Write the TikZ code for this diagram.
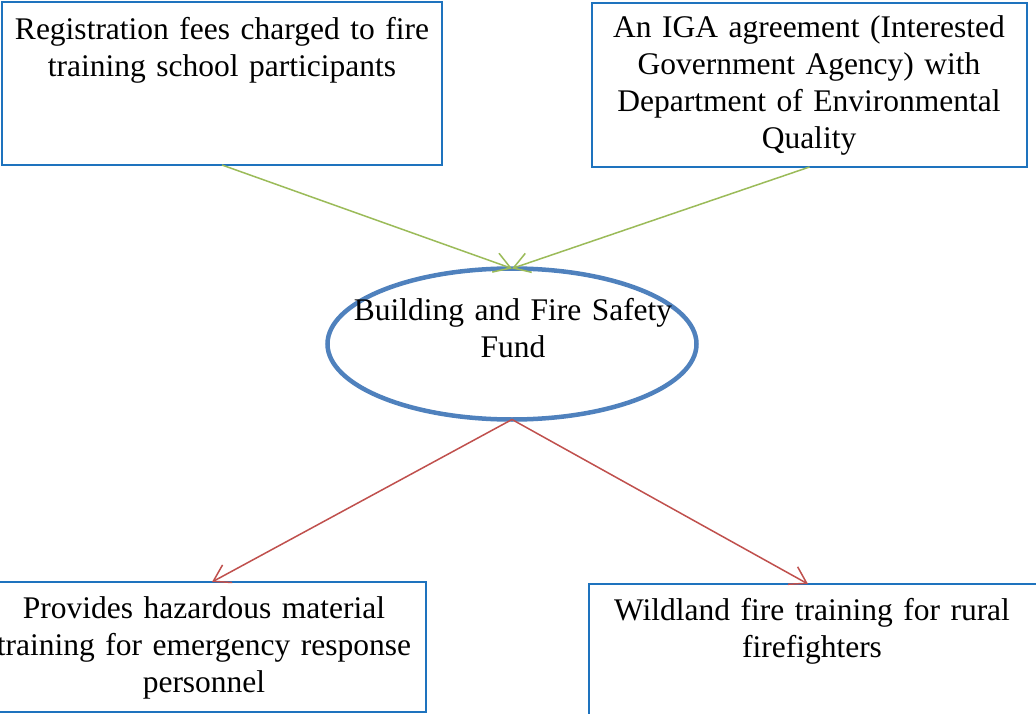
\documentclass[tikz,border=0pt]{standalone}
\usepackage{fontspec}
\setmainfont{Liberation Serif}
\usetikzlibrary{arrows.meta,shapes.geometric}
\definecolor{boxblue}{RGB}{30,115,190}
\definecolor{ellblue}{RGB}{79,129,189}
\definecolor{ingreen}{RGB}{155,187,89}
\definecolor{outred}{RGB}{192,80,77}
\tikzset{
  box/.style={draw=boxblue, line width=2pt, rectangle, inner sep=0pt, outer sep=0pt, anchor=north west},
  fund/.style={draw=ellblue, line width=4.5pt, ellipse, inner sep=0pt, outer sep=0pt, minimum width=369pt, minimum height=151pt},
  txt/.style={align=center, inner sep=0pt, anchor=base, font=\fontsize{31.5}{37}\selectfont},
  inflow/.style={draw=ingreen, line width=1.5pt, -{Straight Barb[length=16pt,width=20pt]}},
  outflow/.style={draw=outred, line width=1.5pt, -{Straight Barb[length=16pt,width=20pt]}}
}
\begin{document}
\begin{tikzpicture}[x=1pt,y=-1pt]
\useasboundingbox (0,0) rectangle (1036,714);
\fill[white] (0,0) rectangle (1036,714);
% boxes
\node[box, minimum width=440pt, minimum height=163pt] (b1) at (2,2) {};
\node[box, minimum width=435pt, minimum height=164pt] (b2) at (592,3) {};
\node[box, minimum width=444pt, minimum height=130pt] (b3) at (-18,582) {};
\node[box, minimum width=448pt, minimum height=140pt] (b4) at (589,584) {};
\node[fund] (f) at (512,344) {};
% texts
\node[txt, text width=440pt] (t1) at (222,40) {Registration fees charged to fire\\training school participants};
\node[txt, text width=440pt] (t2) at (809,38) {An IGA agreement (Interested\\Government Agency) with\\Department of Environmental\\Quality};
\node[txt, text width=440pt] (tf) at (513,320) {Building and Fire Safety\\Fund};
\node[txt, text width=460pt] (t3) at (204,618) {Provides hazardous material\\training for emergency response\\personnel};
\node[txt, text width=440pt] (t4) at (812,620) {Wildland fire training for rural\\firefighters};
% connectors
\draw[inflow] (b1.south) -- (f.north);
\draw[inflow] (b2.south) -- (f.north);
\draw[outflow] (f.south) -- ([xshift=8pt]b3.north);
\draw[outflow] (f.south) -- ([xshift=-5pt]b4.north);
\end{tikzpicture}
\end{document}
